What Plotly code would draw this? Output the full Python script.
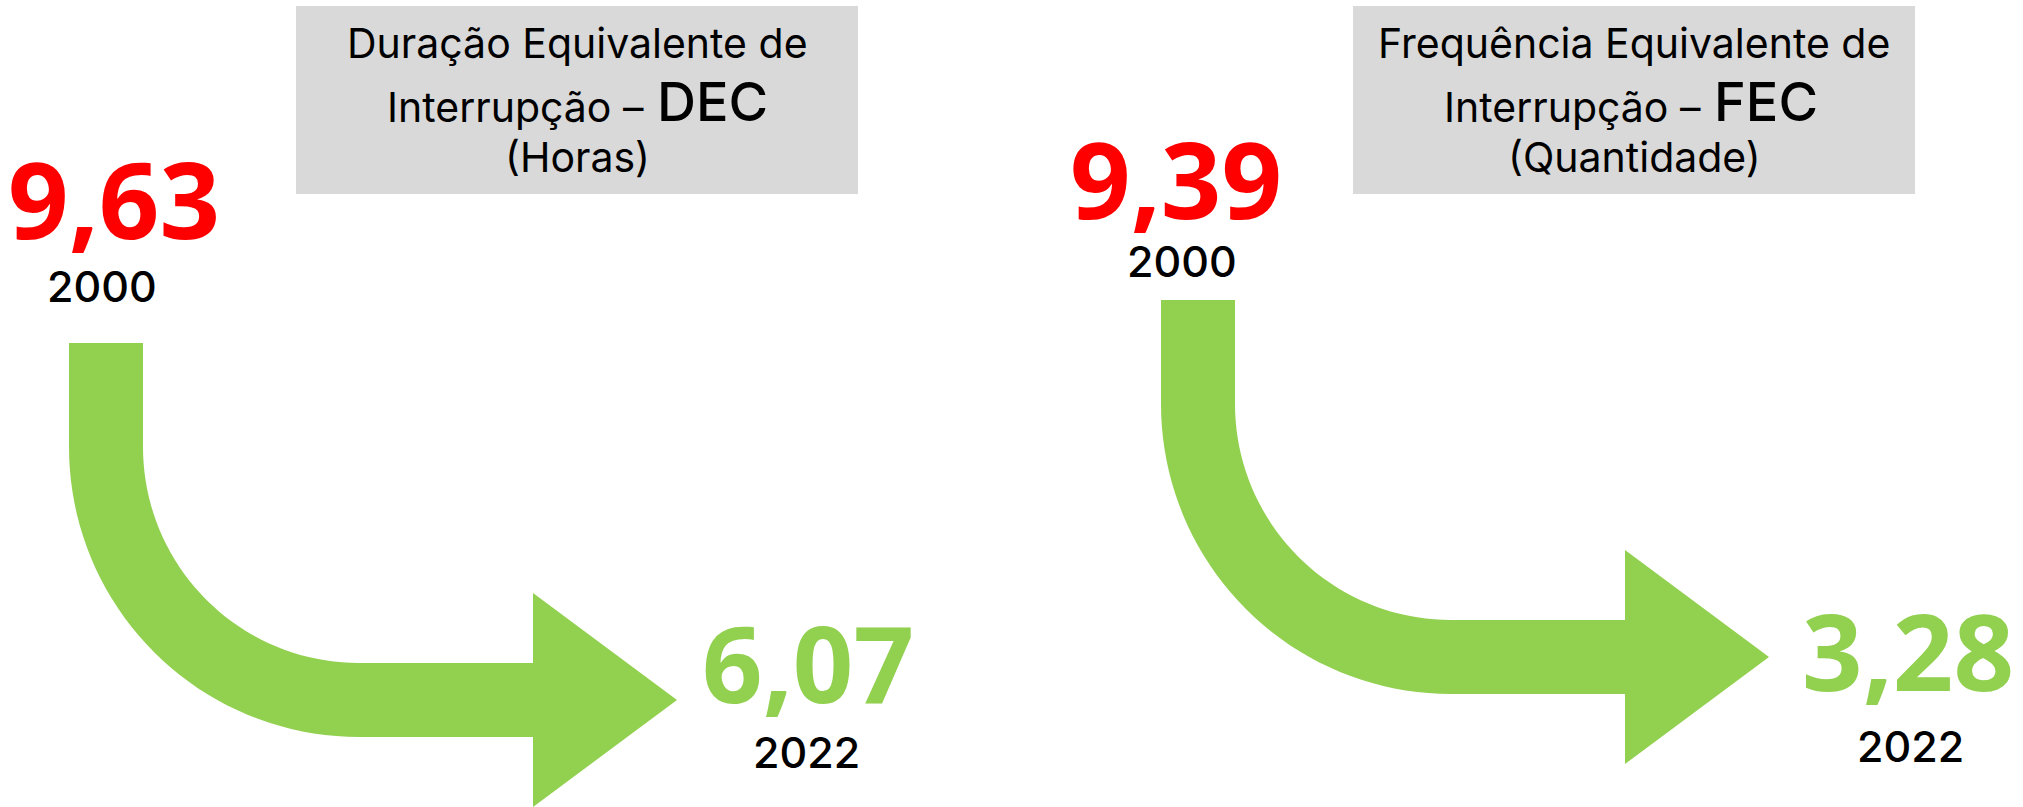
import plotly.graph_objects as go

# ---------------- data ----------------
indicators = ["DEC", "FEC"]
title_line1 = ["Duração Equivalente de", "Frequência Equivalente de"]
title_line2 = ["Interrupção –", "Interrupção –"]
units = ["(Horas)", "(Quantidade)"]
years = ["2000", "2022"]
values_2000 = [9.63, 9.39]
values_2022 = [6.07, 3.28]

# ---------------- style / layout ----------------
W, H = 2023, 807
GREEN = "#92D050"
RED = "#FF0000"
GRAY = "#D9D9D9"
NUM_FONT = "Noto Sans"
TXT_FONT = "Inter"

# panel layout parameters (pixel space)
panels = [
    dict(box=(296, 858, 6, 194), cx=577, stem_x=69, stem_y=343,
         n0=(114, 198), y0=(102, 286), n1=(808, 662), y1=(806, 752)),
    dict(box=(1353, 1915, 6, 194), cx=1634, stem_x=1161, stem_y=300,
         n0=(1176, 178), y0=(1182, 261), n1=(1908, 650), y1=(1910, 746)),
]
STEM_W = 74
STRAIGHT = 104
R_OUT = 290
SHAFT_LEN = 174
HEAD_LEN = 144
HEAD_HALF = 107


def fmt(v):
    return f"{v:.2f}".replace(".", ",")


def arrow_path(x0, y0):
    import math
    r_in = R_OUT - STEM_W
    cxa, cya = x0 + R_OUT, y0 + STRAIGHT
    pts = [(x0, y0), (x0 + STEM_W, y0), (x0 + STEM_W, cya)]
    n = 40
    for i in range(1, n + 1):
        a = math.pi - (math.pi / 2) * i / n
        pts.append((cxa + r_in * math.cos(a), cya + r_in * math.sin(a)))
    xb = cxa + SHAFT_LEN
    cy = cya + (r_in + R_OUT) / 2
    pts += [(xb, cya + r_in), (xb, cy - HEAD_HALF), (xb + HEAD_LEN, cy),
            (xb, cy + HEAD_HALF), (xb, cya + R_OUT), (cxa, cya + R_OUT)]
    for i in range(1, n + 1):
        a = math.pi / 2 + (math.pi / 2) * i / n
        pts.append((cxa + R_OUT * math.cos(a), cya + R_OUT * math.sin(a)))
    return "M " + " L ".join(f"{x:.2f},{y:.2f}" for x, y in pts) + " Z"


fig = go.Figure()
fig.add_trace(go.Scatter(x=[0, W], y=[0, H], mode="markers",
                         marker=dict(opacity=0), hoverinfo="skip", showlegend=False))

shapes = []
annotations = []
for i, p in enumerate(panels):
    bx0, bx1, by0, by1 = p["box"]
    shapes.append(dict(type="rect", x0=bx0, x1=bx1, y0=by0, y1=by1,
                       xref="x", yref="y", fillcolor=GRAY, line=dict(width=0),
                       layer="below"))
    shapes.append(dict(type="path", path=arrow_path(p["stem_x"], p["stem_y"]),
                       xref="x", yref="y", fillcolor=GREEN, line=dict(width=0),
                       layer="below"))
    cx = p["cx"]
    annotations.append(dict(x=cx, y=43, text=title_line1[i],
                            font=dict(family=TXT_FONT, size=41, color="#000"),
                            xanchor="center", yanchor="middle", showarrow=False))
    annotations.append(dict(x=cx + 69, y=106.5, text=title_line2[i],
                            font=dict(family=TXT_FONT, size=41, color="#000"),
                            xanchor="right", yanchor="middle", showarrow=False))
    annotations.append(dict(x=cx + 78, y=101.5, text=indicators[i],
                            font=dict(family=TXT_FONT, size=54, color="#000", weight=500),
                            xanchor="left", yanchor="middle", showarrow=False))
    annotations.append(dict(x=cx, y=157, text=units[i],
                            font=dict(family=TXT_FONT, size=41, color="#000"),
                            xanchor="center", yanchor="middle", showarrow=False))
    annotations.append(dict(x=p["n0"][0], y=p["n0"][1], text=f"<b>{fmt(values_2000[i])}</b>",
                            font=dict(family=NUM_FONT, size=106, color=RED), height=120,
                            xanchor="center", yanchor="middle", showarrow=False))
    annotations.append(dict(x=p["y0"][0], y=p["y0"][1], text=years[0],
                            font=dict(family=TXT_FONT, size=43, color="#000", weight=500),
                            height=40,
                            xanchor="center", yanchor="middle", showarrow=False))
    annotations.append(dict(x=p["n1"][0], y=p["n1"][1], text=f"<b>{fmt(values_2022[i])}</b>",
                            font=dict(family=NUM_FONT, size=106, color=GREEN), height=120,
                            xanchor="center", yanchor="middle", showarrow=False))
    annotations.append(dict(x=p["y1"][0], y=p["y1"][1], text=years[1],
                            font=dict(family=TXT_FONT, size=43, color="#000", weight=500),
                            height=40,
                            xanchor="center", yanchor="middle", showarrow=False))

fig.update_layout(
    width=W, height=H,
    margin=dict(l=0, r=0, t=0, b=0),
    paper_bgcolor="white", plot_bgcolor="white",
    xaxis=dict(range=[0, W], visible=False, fixedrange=True),
    yaxis=dict(range=[H, 0], visible=False, fixedrange=True),
    shapes=shapes, annotations=annotations, showlegend=False,
)
fig.write_html("out.html", config={"displayModeBar": False},
               post_script="document.body.style.margin='0px';document.body.style.overflow='hidden';")
